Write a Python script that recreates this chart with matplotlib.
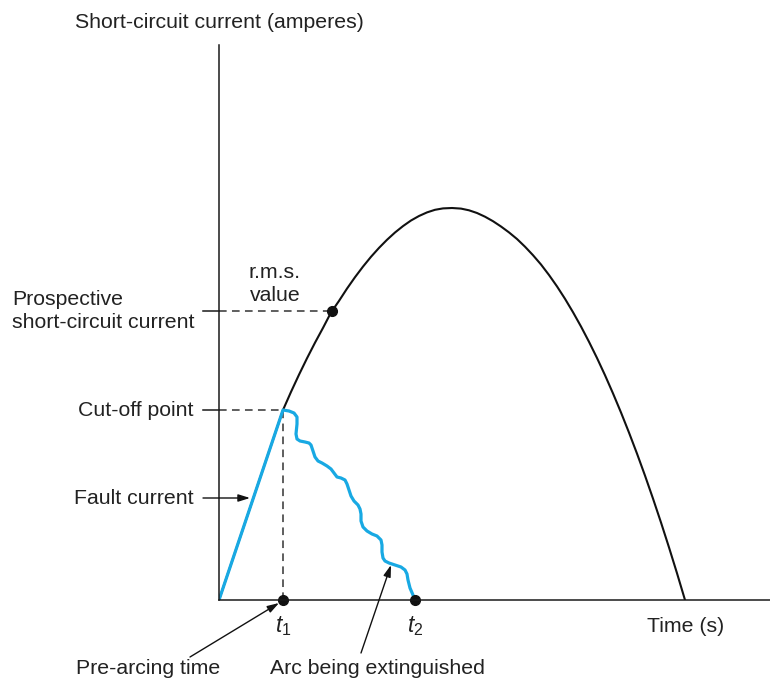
import matplotlib.pyplot as plt

plt.rcParams['font.family'] = ['Liberation Sans', 'DejaVu Sans']
plt.rcParams['mathtext.fontset'] = 'custom'
plt.rcParams['mathtext.rm'] = 'Liberation Sans'
plt.rcParams['mathtext.it'] = 'Liberation Sans:italic'

# prospective short-circuit current (half cycle), time vs current
prosp_t = [0, 32, 64, 72, 80, 88, 96, 104, 112, 120, 128, 136, 144, 152, 160, 168,
           176, 184, 192, 200, 208, 216, 224, 233, 242, 250, 258, 266, 274, 282,
           290, 298, 306, 314, 322, 330, 338, 346, 354, 362, 370, 378, 386, 394,
           402, 410, 418, 426, 434, 442, 450, 458, 466]
prosp_i = [0, 95, 190, 208.1, 225.3, 241.7, 257.3, 272.1, 287.5, 299.1, 311.4,
           322.8, 333.4, 343.2, 352.1, 360.2, 367.5, 373.9, 379.5, 384.0, 387.6,
           390.2, 391.6, 392, 391.4, 389.7, 387.0, 383.3, 378.8, 373.5, 367.6,
           361.0, 353.3, 344.8, 335.5, 325.0, 313.6, 301.2, 287.8, 273.5, 258.2,
           242.0, 224.8, 206.6, 187.5, 167.4, 146.4, 124.4, 101.4, 77.5, 52.6,
           26.8, 0]

# fault current: rise to cut-off, then arc being extinguished
fault_t = [0, 64, 70, 75, 78, 78, 77, 78, 81, 86, 90, 92, 94, 96, 99, 103, 108,
           112, 115, 118, 122, 126, 128, 130, 132, 135, 139, 141, 142, 142, 144,
           148, 153, 158, 162, 163, 163, 164, 166, 170, 176, 182, 186, 188, 189,
           191, 194, 196]
fault_i = [0, 190, 189, 187, 183, 176, 166, 161, 159, 158, 157, 155, 149, 143,
           139, 137, 134, 131, 127, 123, 122, 120, 116, 110, 104, 99, 95, 91, 86,
           79, 73, 69, 66, 64, 60, 55, 48, 42, 39, 37, 35, 33, 30, 26, 20, 12, 5, 0]

t_cutoff, i_cutoff = 64, 190
t_rms, i_rms = 113, 289
t1, t2 = 64, 196

fig = plt.figure(figsize=(7.7, 6.81), dpi=100)
ax = fig.add_axes([219 / 770, 81 / 681, 551 / 770, 555 / 681])
ax.set_xlim(0, 551)
ax.set_ylim(0, 555)
for side in ['top', 'right']:
    ax.spines[side].set_visible(False)
for side in ['left', 'bottom']:
    ax.spines[side].set_linewidth(1.1)
    ax.spines[side].set_color('#1a1a1a')
ax.set_xticks([])
ax.set_yticks([])

dash = dict(color='#333333', lw=1.1, dashes=(5, 3.5), clip_on=False)
solid = dict(color='#1a1a1a', lw=1.1, clip_on=False)

# guide lines to cut-off and r.m.s. points
ax.plot([-16, 0], [i_cutoff, i_cutoff], **solid)
ax.plot([0, t_cutoff], [i_cutoff, i_cutoff], **dash)
ax.plot([-16, 0], [i_rms, i_rms], **solid)
ax.plot([0, t_rms], [i_rms, i_rms], **dash)
ax.plot([t1, t1], [0, i_cutoff], **dash)

ax.plot(prosp_t, prosp_i, color='#111111', lw=1.5, solid_capstyle='round',
        solid_joinstyle='round')
ax.plot(fault_t, fault_i, color='#18a9e3', lw=2.3, solid_joinstyle='round',
        solid_capstyle='round')

ax.plot([t_rms, t1, t2], [i_rms, 0, 0], 'o', color='#111111', ms=7, clip_on=False)

fs = 15.3
tc = '#222222'
ax.text(-144, 578, 'Short-circuit current (amperes)', fontsize=fs, color=tc,
        ha='left', va='center')
ax.text(56, 316, 'r.m.s.\nvalue', fontsize=fs, color=tc, ha='center', va='center',
        linespacing=1.25)
ax.text(-207, 289, 'Prospective\nshort-circuit current', fontsize=fs, color=tc,
        ha='left', va='center', linespacing=1.25)
ax.text(-25, i_cutoff, 'Cut-off point', fontsize=fs, color=tc, ha='right', va='center')
ax.text(-25, 102, 'Fault current', fontsize=fs, color=tc, ha='right', va='center')
ax.text(t1, -26, '$t_1$', fontsize=fs + 1, color=tc, ha='center', va='center')
ax.text(t2, -26, '$t_2$', fontsize=fs + 1, color=tc, ha='center', va='center')
ax.text(467, -26, 'Time (s)', fontsize=fs, color=tc, ha='center', va='center')
ax.text(-71, -69, 'Pre-arcing time', fontsize=fs, color=tc, ha='center', va='center')
ax.text(158, -69, 'Arc being extinguished', fontsize=fs, color=tc, ha='center',
        va='center')

arrow = dict(arrowstyle='-|>,head_length=0.7,head_width=0.22', color='#111111',
             lw=1.0, shrinkA=0, shrinkB=0)
ax.annotate('', xy=(31, 102), xytext=(-16, 102), arrowprops=arrow,
            annotation_clip=False)
ax.annotate('', xy=(60, -3), xytext=(-29, -57), arrowprops=arrow,
            annotation_clip=False)
ax.annotate('', xy=(172, 35), xytext=(142, -53), arrowprops=arrow,
            annotation_clip=False)

fig.savefig('out.png', dpi=100)
